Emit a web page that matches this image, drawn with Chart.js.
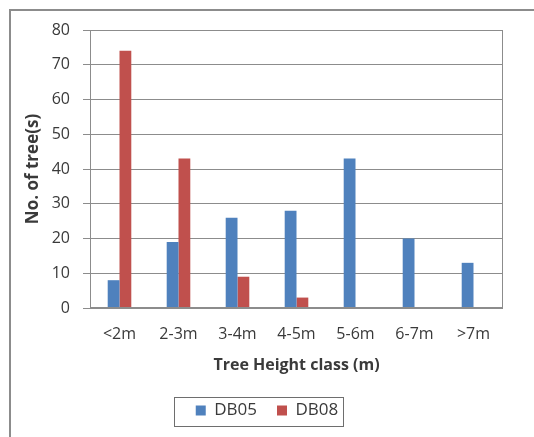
<!DOCTYPE html>
<html lang="en">
<head>
    <meta charset="UTF-8">
    <title>Tree Height class</title>
    <script src="https://cdn.jsdelivr.net/npm/chart.js"></script>
    <style>
        body {
            margin: 0;
            background-color: #ffffff;
            overflow: hidden;
        }

        /* outer frame, only top and left edges show in the picture */
        .frame {
            position: absolute;
            left: 9px;
            top: 9px;
            width: 600px;
            height: 500px;
            border-top: 2px solid #8c8c8c;
            border-left: 2px solid #8c8c8c;
        }

        canvas {
            position: absolute;
            left: 0;
            top: 0;
        }
    </style>
</head>
<body>
    <div class="frame"></div>
    <canvas id="height-chart" width="534" height="437"></canvas>
    <script>
        const heightClasses = ["<2m", "2-3m", "3-4m", "4-5m", "5-6m", "6-7m", ">7m"];
        const db05 = [8, 19, 26, 28, 43, 20, 13];
        const db08 = [74, 43, 9, 3, 0, 0, 0];

        const textColor = "#3a3a3a";
        const lineColor = "#8c8c8c";

        // grey box round the plot area
        const plotBorder = {
            id: "plotBorder",
            afterDraw(chart) {
                const { ctx, chartArea } = chart;
                ctx.save();
                ctx.strokeStyle = lineColor;
                ctx.lineWidth = 1;
                ctx.strokeRect(chartArea.left + 0.5, chartArea.top + 0.5,
                    chartArea.right - chartArea.left - 1, chartArea.bottom - chartArea.top - 1);
                ctx.restore();
            }
        };

        // box round the legend items, like Excel draws it
        const legendBox = {
            id: "legendBox",
            afterDraw(chart) {
                const boxes = chart.legend.legendHitBoxes;
                if (!boxes || !boxes.length) return;
                const first = boxes[0];
                const last = boxes[boxes.length - 1];
                const cy = first.top + first.height / 2;
                const ctx = chart.ctx;
                ctx.save();
                ctx.strokeStyle = "#6e6e6e";
                ctx.lineWidth = 1;
                const left = Math.round(first.left - 22) + 0.5;
                const right = Math.round(last.left + last.width + 5) + 0.5;
                ctx.strokeRect(left, Math.round(cy - 14) + 0.5, right - left, 29);
                ctx.restore();
            }
        };

        new Chart(document.getElementById("height-chart").getContext("2d"), {
            type: "bar",
            data: {
                labels: heightClasses,
                datasets: [
                    {
                        label: "DB05",
                        data: db05,
                        backgroundColor: "#4f81bd",
                        borderWidth: 0
                    },
                    {
                        label: "DB08",
                        data: db08,
                        backgroundColor: "#c0504d",
                        borderWidth: 0
                    }
                ]
            },
            options: {
                responsive: false,
                devicePixelRatio: 1,
                animation: false,
                layout: {
                    padding: { left: 20, right: 20, top: 30, bottom: 8 }
                },
                datasets: {
                    bar: {
                        categoryPercentage: 0.4,
                        barPercentage: 1.0
                    }
                },
                plugins: {
                    legend: {
                        position: "bottom",
                        labels: {
                            boxWidth: 10,
                            boxHeight: 10,
                            padding: 20,
                            color: textColor,
                            font: { family: "Open Sans", size: 17 }
                        }
                    },
                    tooltip: { enabled: false }
                },
                scales: {
                    x: {
                        grid: { display: false, drawTicks: false },
                        border: { display: false },
                        ticks: {
                            padding: 17,
                            color: textColor,
                            font: { family: "Open Sans", size: 16 }
                        },
                        title: {
                            display: true,
                            text: "Tree Height class (m)",
                            color: textColor,
                            padding: { top: 0, bottom: 7 },
                            font: { family: "Open Sans", size: 16, weight: "bold" }
                        },
                        afterFit(scale) { scale.height = 74; }
                    },
                    y: {
                        min: 0,
                        max: 80,
                        ticks: {
                            stepSize: 10,
                            padding: 13,
                            color: textColor,
                            font: { family: "Open Sans", size: 16 }
                        },
                        grid: {
                            color: lineColor,
                            tickLength: 7
                        },
                        border: { display: true, color: lineColor },
                        title: {
                            display: true,
                            text: "No. of tree(s)",
                            color: textColor,
                            padding: { top: 3, bottom: 0 },
                            font: { family: "Open Sans", size: 17, weight: "bold" }
                        },
                        afterFit(scale) { scale.width = 70; }
                    },
                    // empty axis on the right, keeps the plot off the right edge
                    yRight: {
                        position: "right",
                        grid: { display: false },
                        border: { display: false },
                        ticks: { display: false },
                        afterFit(scale) { scale.width = 11; }
                    }
                }
            },
            plugins: [plotBorder, legendBox]
        });
    </script>
</body>
</html>
